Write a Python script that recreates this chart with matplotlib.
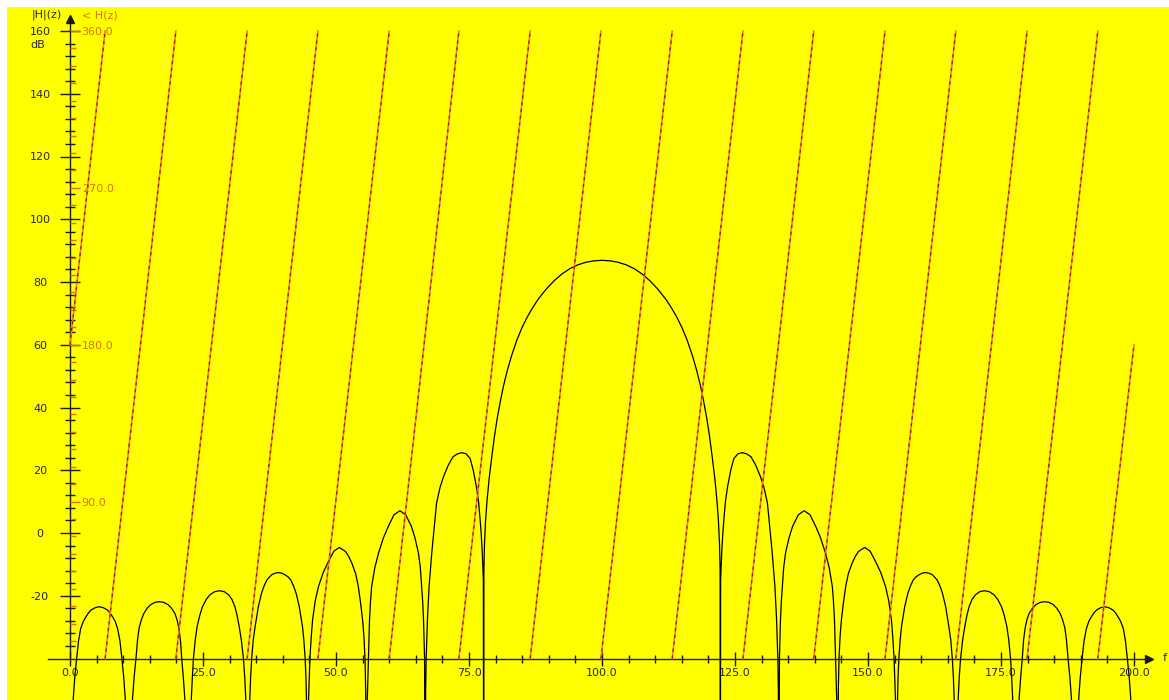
import numpy as np
import matplotlib
matplotlib.use('Agg')
import matplotlib.pyplot as plt

# ---------------- data ----------------
# magnitude |H| in dB, left half (0..100 Hz), one lobe per line
mag_freq_left = [
    0.0, 0.3, 0.6, 0.9, 1.25, 1.6, 2.0, 2.5, 3.0, 3.5, 4.0, 4.75, 5.5, 6.25, 7.0, 7.5, 8.0, 8.5, 8.95, 9.4, 9.75, 10.1, 10.4, 10.75, 11.05,
    11.4, 11.75, 12.05, 12.4, 12.7, 13.0, 13.45, 13.9, 14.5, 15.2, 16.0, 16.8, 17.6, 18.4, 19.1, 19.7, 20.1, 20.45, 20.75, 21.0, 21.3, 21.6, 21.9, 22.2,
    22.5, 22.8, 23.0, 23.2, 23.55, 23.9, 24.4, 24.9, 25.6, 26.3, 27.2, 28.1, 29.0, 29.8, 30.45, 31.0, 31.4, 31.8, 32.2, 32.6, 32.85, 33.05, 33.2, 33.4,
    33.6, 33.8, 33.95, 34.15, 34.45, 34.8, 35.4, 36.0, 36.5, 37.0, 37.5, 38.0, 38.6, 39.2, 39.8, 40.4, 41.0, 41.5, 42.0, 42.5, 43.1, 43.7, 43.95, 44.2, 44.35, 44.45, 44.52, 44.6,
    44.8, 44.95, 45.1, 45.35, 45.6, 46.1, 46.7, 47.6, 48.6, 49.6, 50.6, 51.8, 52.4, 53.0, 53.7, 54.2, 54.6, 55.0, 55.25, 55.45, 55.58, 55.7,
    55.85, 55.98, 56.1, 56.3, 56.5, 56.7, 57.3, 58.0, 58.9, 59.8, 60.9, 62.0, 63.1, 64.2, 64.85, 65.5, 65.85, 66.1, 66.3, 66.45, 66.65, 66.75,
    66.85, 66.95, 67.2, 67.5, 68.0, 68.9, 69.55, 70.2, 71.1, 72.0, 72.8, 73.6, 74.4, 75.2, 75.8, 76.4, 76.8, 77.1, 77.3, 77.5, 77.7, 77.75,
    77.8, 77.9, 78.1, 78.4, 78.8, 79.3, 79.8, 80.3, 80.9, 81.5, 82.2, 83.0, 84.0, 85.0, 86.0, 87.0, 88.0, 89.5, 91.0, 92.5, 94.0, 95.5, 97.0, 98.5, 100.0,
]
mag_db_left = [
    -100, -62, -53, -46, -40, -34.5, -30.5, -28.2, -26.7, -25.4, -24.5, -23.8, -23.5, -23.8, -24.5, -25.4, -26.7, -28.2, -30.5, -34.5, -40, -46, -53, -62, -100,
    -62, -53, -46, -40, -34, -30.2, -27.5, -25.6, -24.0, -22.8, -22.1, -21.9, -22.1, -22.8, -24.0, -25.6, -27.5, -30.2, -34, -40, -46, -53, -62, -100,
    -62, -53, -46, -40, -34, -29.8, -26.2, -23.5, -21.2, -19.7, -18.7, -18.4, -18.7, -19.7, -21.2, -23.5, -26.2, -29.8, -34, -40, -46, -53, -62, -100,
    -62, -53, -46, -40, -34, -29.8, -23.5, -19.2, -16.8, -15.0, -14.0, -13.2, -12.8, -12.6, -12.8, -13.3, -14.0, -15.0, -16.8, -19.2, -23.5, -29.8, -34, -40, -46, -53, -62, -100,
    -55, -47, -40, -33, -27.7, -21.6, -17.1, -12.6, -9.0, -5.8, -4.6, -5.9, -7.5, -9.7, -13.0, -17.1, -22, -27.7, -33, -40, -50, -100,
    -55, -47, -40, -27.7, -21.5, -17.1, -11.0, -6.4, -1.6, 2.0, 5.8, 7.1, 5.8, 2.0, -1.6, -6.4, -11.0, -17.1, -22, -27.7, -40, -100,
    -50, -40, -27, -17, -6.4, 9.5, 14.5, 17.9, 21.6, 24.3, 25.2, 25.6, 25.3, 23.8, 20.0, 14.7, 10.0, 4.1, -0.5, -6.4, -15, -100,
    -12, -4, 3.5, 10.5, 17.5, 24.5, 31.0, 36.5, 42.0, 47.0, 51.8, 56.5, 61.5, 65.6, 69.0, 71.9, 74.5, 77.7, 80.4, 82.6, 84.3, 85.5, 86.3, 86.75, 86.9,
]
# magnitude |H| in dB, right half (100..200 Hz)
mag_freq_right = [
    101.5, 103.0, 104.5, 106.0, 107.5, 109.0, 110.5, 112.0, 113.0, 114.0, 115.0, 116.0, 117.0, 117.8, 118.5, 119.1, 119.7, 120.2, 120.7, 121.2, 121.6, 121.9, 122.1, 122.2,
    122.25, 122.3, 122.5, 122.7, 122.9, 123.2, 123.6, 124.2, 124.8, 125.6, 126.4, 127.2, 128.0, 128.9, 129.8, 130.45, 131.1, 132.0, 132.5, 132.8, 133.05, 133.15, 133.25,
    133.35, 133.55, 133.7, 133.9, 134.15, 134.5, 135.15, 135.8, 136.9, 138.0, 139.1, 140.2, 141.1, 142.0, 142.7, 143.3, 143.5, 143.7, 143.9, 144.02, 144.15, 144.3,
    144.42, 144.55, 144.75, 145.0, 145.4, 145.8, 146.3, 147.0, 147.6, 148.2, 149.4, 150.4, 151.4, 152.4, 153.3, 153.9, 154.4, 154.65, 154.9, 155.05, 155.2, 155.4,
    155.48, 155.55, 155.65, 155.8, 156.05, 156.3, 156.9, 157.5, 158.0, 158.5, 159.0, 159.6, 160.2, 160.8, 161.4, 162.0, 162.5, 163.0, 163.5, 164.0, 164.6, 165.2, 165.55, 165.85, 166.05, 166.2, 166.4, 166.6,
    166.8, 166.95, 167.15, 167.4, 167.8, 168.2, 168.6, 169.0, 169.55, 170.2, 171.0, 171.9, 172.8, 173.7, 174.4, 175.1, 175.6, 176.1, 176.45, 176.8, 177.0, 177.2, 177.5, 177.8,
    178.1, 178.4, 178.7, 179.0, 179.25, 179.55, 179.9, 180.3, 180.9, 181.6, 182.4, 183.2, 184.0, 184.8, 185.5, 186.1, 186.55, 187.0, 187.3, 187.6, 187.95, 188.25, 188.6, 188.95,
    189.25, 189.6, 189.9, 190.25, 190.6, 191.05, 191.5, 192.0, 192.5, 193.0, 193.75, 194.5, 195.25, 196.0, 196.5, 197.0, 197.5, 198.0, 198.4, 198.75, 199.1, 199.4, 199.7, 200.0,
]
mag_db_right = [
    86.75, 86.3, 85.5, 84.3, 82.6, 80.4, 77.7, 74.5, 71.9, 69.0, 65.6, 61.5, 56.5, 51.8, 47.0, 42.0, 36.5, 31.0, 24.5, 17.5, 10.5, 3.5, -4, -12,
    -100, -15, -6.4, -0.5, 4.1, 10.0, 14.7, 20.0, 23.8, 25.3, 25.6, 25.2, 24.3, 21.6, 17.9, 14.5, 9.5, -6.4, -17, -27, -40, -50, -100,
    -40, -27.7, -22, -17.1, -11.0, -6.4, -1.6, 2.0, 5.8, 7.1, 5.8, 2.0, -1.6, -6.4, -11.0, -17.1, -21.5, -27.7, -40, -47, -55, -100,
    -50, -40, -33, -27.7, -22, -17.1, -13.0, -9.7, -7.5, -5.9, -4.6, -5.8, -9.0, -12.6, -17.1, -21.6, -27.7, -33, -40, -47, -55, -100,
    -62, -53, -46, -40, -34, -29.8, -23.5, -19.2, -16.8, -15.0, -14.0, -13.3, -12.8, -12.6, -12.8, -13.2, -14.0, -15.0, -16.8, -19.2, -23.5, -29.8, -34, -40, -46, -53, -62, -100,
    -62, -53, -46, -40, -34, -29.8, -26.2, -23.5, -21.2, -19.7, -18.7, -18.4, -18.7, -19.7, -21.2, -23.5, -26.2, -29.8, -34, -40, -46, -53, -62, -100,
    -62, -53, -46, -40, -34, -30.2, -27.5, -25.6, -24.0, -22.8, -22.1, -21.9, -22.1, -22.8, -24.0, -25.6, -27.5, -30.2, -34, -40, -46, -53, -62, -100,
    -62, -53, -46, -40, -34.5, -30.5, -28.2, -26.7, -25.4, -24.5, -23.8, -23.5, -23.8, -24.5, -25.4, -26.7, -28.2, -30.5, -34.5, -40, -46, -53, -62, -100,
]

# phase <H(z) in degrees: linear, wrapping 360 -> 0 at these frequencies
phase_start = 180.0      # phase at f = 0
phase_end = 180.0        # phase at f = 200
phase_wrap_freq = [6.6, 19.9, 33.3, 46.6, 60.0, 73.1, 86.5, 99.8,
                   113.2, 126.5, 139.8, 153.2, 166.5, 179.9, 193.2]
f_start, f_end = 0.0, 200.0

# axes ticks / labels
x_major = [0, 25, 50, 75, 100, 125, 150, 175, 200]
x_labels = ["0.0", "25.0", "50.0", "75.0", "100.0", "125.0", "150.0", "175.0", "200.0"]
y_major = [-20, 0, 20, 40, 60, 80, 100, 120, 140, 160]
y_labels = ["-20", "0", "20", "40", "60", "80", "100", "120", "140", "160"]
ph_major = [90, 180, 270, 360]
ph_labels = ["90.0", "180.0", "270.0", "360.0"]

assert len(mag_freq_left) == len(mag_db_left)
assert len(mag_freq_right) == len(mag_db_right)

# ---------------- figure ----------------
W, H = 1169, 700
fig = plt.figure(figsize=(W / 100, H / 100), dpi=100)
fig.patch.set_facecolor('white')

px_per_hz = 5.32
px_per_db = 3.1375
x0_px, y0_px = 70.0, 533.0          # pixel of f=0 and of 0 dB (top origin)
left_px, top_px = 7, 7

ax = fig.add_axes([left_px / W, 0, (W - left_px) / W, (H - top_px) / H])
ax.set_facecolor('#FFFF00')
xmin = (left_px - x0_px) / px_per_hz
xmax = (W - x0_px) / px_per_hz
ymin = (y0_px - H) / px_per_db
ymax = (y0_px - top_px) / px_per_db
ax.set_xlim(xmin, xmax)
ax.set_ylim(ymin, ymax)

# phase axis: 0 deg <-> -40 dB, 360 deg <-> 160 dB
ax2 = ax.twinx()
ax2.set_ylim((ymin + 40) * 1.8, (ymax + 40) * 1.8)

AXC = '#1a1a1a'
ORANGE = '#E07010'
TXT = '#2a2a2a'
FS = 8.0

# ----- phase lines -----
ph_x, ph_y = [f_start], [phase_start]
for w in phase_wrap_freq:
    ph_x += [w, np.nan, w]
    ph_y += [360.0, np.nan, 0.0]
ph_x.append(f_end)
ph_y.append(phase_end)
ax2.plot(ph_x, ph_y, color='#F08020', lw=1.2, zorder=2)
ax2.plot(ph_x, ph_y, color='#9A1A06', lw=0.9, dashes=(2.5, 3), zorder=3)

# ----- magnitude -----
mag_f = mag_freq_left + mag_freq_right
mag_d = mag_db_left + mag_db_right
ax.plot(mag_f, mag_d, color='black', lw=0.9, zorder=4, solid_joinstyle='round')

# ----- axes spines -----
for s in ['top', 'right']:
    ax.spines[s].set_visible(False)
ax.spines['left'].set_position(('data', 0))
ax.spines['bottom'].set_position(('data', -40))
ax.spines['left'].set_bounds(-40, 163)
ax.spines['bottom'].set_bounds(-4.1, 202)
for s in ['left', 'bottom']:
    ax.spines[s].set_color(AXC)
    ax.spines[s].set_linewidth(1.0)
    ax.spines[s].set_zorder(5)

for s in ['top', 'left', 'bottom', 'right']:
    ax2.spines[s].set_visible(False)
ax2.spines['right'].set_position(('data', 0))

# arrows
ax.plot([0], [(y0_px - 19) / px_per_db], marker='^', ms=6, color=AXC, clip_on=False, zorder=6)
ax.plot([(1149 - x0_px) / px_per_hz], [-40], marker='>', ms=6, color=AXC, clip_on=False, zorder=6)

# x ticks
ax.set_xticks(x_major)
ax.set_xticklabels(x_labels)
ax.set_xticks(np.arange(0, 201, 5), minor=True)
ax.tick_params(axis='x', which='major', direction='inout', length=10, width=1, color=AXC,
               pad=2.2, labelsize=FS, labelcolor=TXT)
ax.tick_params(axis='x', which='minor', direction='inout', length=5.8, width=1, color=AXC)

# y ticks (dB)
ax.set_yticks(y_major)
ax.set_yticklabels(y_labels)
ax.set_yticks([v for v in range(-36, 160, 4) if v % 20 != 0], minor=True)
ax.tick_params(axis='y', which='major', direction='inout', length=14.4, width=1, color=AXC,
               pad=14.4, labelsize=FS, labelcolor=TXT)
ax.tick_params(axis='y', which='minor', direction='inout', length=7.9, width=1, color=AXC)
for lbl in ax.get_yticklabels():
    lbl.set_horizontalalignment('center')

# phase ticks
ax2.set_yticks(ph_major)
ax2.set_yticklabels(ph_labels)
ax2.set_yticks([v for v in range(10, 360, 10) if v % 90 != 0], minor=True)
ax2.tick_params(axis='y', which='major', direction='out', length=7.2, width=1, color=ORANGE,
                pad=1.2, labelsize=FS, labelcolor=ORANGE, left=False, right=True,
                labelleft=False, labelright=True)
ax2.tick_params(axis='y', which='minor', direction='out', length=4.3, width=1, color=ORANGE,
                left=False, right=True)

# axis titles
def px2f(x):
    return (x - x0_px) / px_per_hz

def px2db(y):
    return (y0_px - y) / px_per_db

ax.text(px2f(46.5), px2db(15), "|H|(z)", ha='center', va='center', fontsize=FS, color=TXT, clip_on=False)
ax.text(px2f(82), px2db(15), "< H(z)", ha='left', va='center', fontsize=FS, color=ORANGE, clip_on=False)
ax.text(px2f(37.5), px2db(45), "dB", ha='center', va='center', fontsize=FS, color=TXT, clip_on=False)
ax.text(px2f(1165), px2db(658), "f", ha='center', va='center', fontsize=FS, color=TXT, clip_on=False)

fig.savefig('out.png', dpi=100, facecolor='white')
